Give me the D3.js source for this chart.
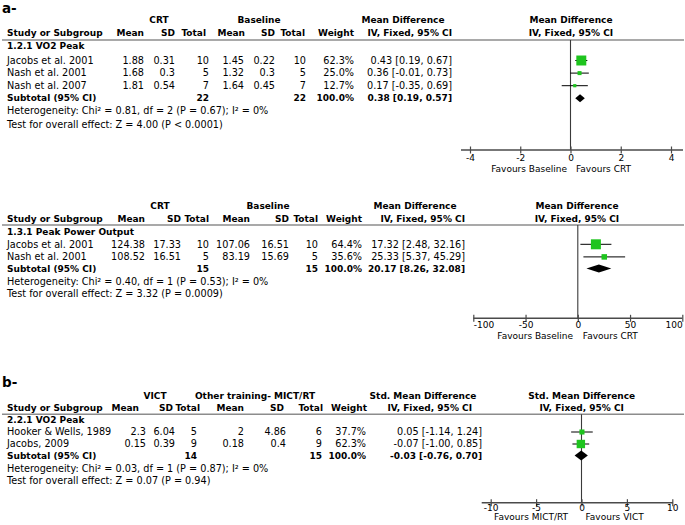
<!DOCTYPE html>
<html><head><meta charset="utf-8">
<script src="https://cdn.jsdelivr.net/npm/d3@7"></script>
<style>
body{margin:0;background:#fff}
text{font-family:"DejaVu Sans",Verdana,sans-serif;font-size:9.7px;fill:#000}
.b{font-weight:bold;font-size:9px}
</style>
</head><body>
<svg id="c" width="685" height="525"></svg>
<script>
// ---------- shared labels ----------
const colHeads = ["Mean","SD","Total","Mean","SD","Total","Weight","IV, Fixed, 95% CI"];
const studyHead = "Study or Subgroup";
const subtotalLabel = "Subtotal (95% CI)";

// ---------- panel a (1) ----------
const a1Group = "1.2.1 VO2 Peak";
const a1Studies = ["Jacobs et al. 2001","Nash et al. 2001","Nash et al. 2007"];
const a1ExpMean = [1.88,1.68,1.81];
const a1ExpSD = [0.31,0.3,0.54];
const a1ExpN = [10,5,7];
const a1CtlMean = [1.45,1.32,1.64];
const a1CtlSD = [0.22,0.3,0.45];
const a1CtlN = [10,5,7];
const a1Weight = [62.3,25.0,12.7];
const a1Est = [0.43,0.36,0.17];
const a1Lo = [0.19,-0.01,-0.35];
const a1Hi = [0.67,0.73,0.69];
const a1SubN = [22,22];
const a1SubEst = [0.38,0.19,0.57];
const a1Het = "Heterogeneity: Chi\u00B2 = 0.81, df = 2 (P = 0.67); I\u00B2 = 0%";
const a1Test = "Test for overall effect: Z = 4.00 (P < 0.0001)";
const a1Ticks = [-4,-2,0,2,4];
const a1Groups = ["CRT","Baseline","Mean Difference"];
const a1PlotHead = ["Mean Difference","IV, Fixed, 95% CI"];
const a1Favours = ["Favours Baseline","Favours CRT"];

// ---------- panel a (2) ----------
const a2Group = "1.3.1 Peak Power Output";
const a2Studies = ["Jacobs et al. 2001","Nash et al. 2001"];
const a2ExpMean = [124.38,108.52];
const a2ExpSD = [17.33,16.51];
const a2ExpN = [10,5];
const a2CtlMean = [107.06,83.19];
const a2CtlSD = [16.51,15.69];
const a2CtlN = [10,5];
const a2Weight = [64.4,35.6];
const a2Est = [17.32,25.33];
const a2Lo = [2.48,5.37];
const a2Hi = [32.16,45.29];
const a2SubN = [15,15];
const a2SubEst = [20.17,8.26,32.08];
const a2Het = "Heterogeneity: Chi\u00B2 = 0.40, df = 1 (P = 0.53); I\u00B2 = 0%";
const a2Test = "Test for overall effect: Z = 3.32 (P = 0.0009)";
const a2Ticks = [-100,-50,0,50,100];
const a2Groups = ["CRT","Baseline","Mean Difference"];
const a2PlotHead = ["Mean Difference","IV, Fixed, 95% CI"];
const a2Favours = ["Favours Baseline","Favours CRT"];

// ---------- panel b ----------
const bGroup = "2.2.1 VO2 Peak";
const bStudies = ["Hooker & Wells, 1989","Jacobs, 2009"];
const bExpMean = [2.3,0.15];
const bExpSD = [6.04,0.39];
const bExpN = [5,9];
const bCtlMean = [2,0.18];
const bCtlSD = [4.86,0.4];
const bCtlN = [6,9];
const bWeight = [37.7,62.3];
const bEst = [0.05,-0.07];
const bLo = [-1.14,-1.00];
const bHi = [1.24,0.85];
const bSubN = [14,15];
const bSubEst = [-0.03,-0.76,0.70];
const bHet = "Heterogeneity: Chi\u00B2 = 0.03, df = 1 (P = 0.87); I\u00B2 = 0%";
const bTest = "Test for overall effect: Z = 0.07 (P = 0.94)";
const bTicks = [-10,-5,0,5,10];
const bGroups = ["VICT","Other training- MICT/RT","Std. Mean Difference"];
const bPlotHead = ["Std. Mean Difference","IV, Fixed, 95% CI"];
const bFavours = ["Favours MICT/RT","Favours VICT"];

const GREEN = "#1ec41e";
const svg = d3.select("#c");
const f2 = v => v.toFixed(2);
const ciStr = (e,l,h) => `${f2(e)} [${f2(l)}, ${f2(h)}]`;

function txt(x,y,s,anchor,bold,size){
  const t = svg.append("text").attr("x",x).attr("y",y).attr("dy","0.35em")
    .attr("text-anchor",anchor||"start").attr("class",bold?"b":null).text(s);
  if(size) t.style("font-size",size+"px");
  return t;
}

function panel(d, L){
  // headers
  d.groups.forEach((g,i)=>txt(L.groupCx[i], L.yH1, g, "middle", true));
  txt(L.studyX, L.yH2, studyHead, "start", true);
  const hc = L.headCols || L.cols;
  colHeads.forEach((h,i)=>txt(hc[i], L.yH2, h, "end", true));
  txt(L.plotCx, L.yH1, d.plotHead[0], "middle", true);
  txt(L.plotCx, L.yH2, d.plotHead[1], "middle", true);
  svg.append("line").attr("x1",2).attr("x2",684).attr("y1",L.yLine).attr("y2",L.yLine)
    .attr("stroke","#8c8c8c").attr("stroke-width",1.6);
  txt(L.studyX, L.yGroup, d.group, "start", true);

  const y = d3.scaleLinear().domain([0,1]).range([L.yRow0, L.yRow0 + L.rowStep]);
  d.studies.forEach((s,i)=>{
    const yy = y(i);
    const vals = [String(d.em[i]),String(d.es[i]),String(d.en[i]),String(d.cm[i]),String(d.cs[i]),String(d.cn[i]),
                  d.w[i].toFixed(1)+"%", ciStr(d.est[i],d.lo[i],d.hi[i])];
    txt(L.studyX, yy, s);
    vals.forEach((v,j)=>txt(L.cols[j], yy, v, "end"));
  });
  const ys = L.ySub;
  txt(L.studyX, ys, subtotalLabel, "start", true);
  txt(L.cols[2], ys, String(d.subN[0]), "end", true);
  txt(L.cols[5], ys, String(d.subN[1]), "end", true);
  txt(L.cols[6], ys, "100.0%", "end", true);
  txt(L.cols[7], ys, ciStr(d.subEst[0],d.subEst[1],d.subEst[2]), "end", true);
  txt(L.studyX, L.yHet, d.het);
  txt(L.studyX, L.yTest, d.test);

  // forest plot
  const x = d3.scaleLinear().domain([d.ticks[0], d.ticks[d.ticks.length-1]]).range(L.tickRange);
  const g = svg.append("g");
  g.append("line").attr("x1",x(0)).attr("x2",x(0)).attr("y1",L.yLine).attr("y2",L.yAxis)
    .attr("stroke","#3a3a3a").attr("stroke-width",1.1);
  g.append("line").attr("x1",L.axisX[0]).attr("x2",L.axisX[1]).attr("y1",L.yAxis).attr("y2",L.yAxis)
    .attr("stroke","#4a4a4a").attr("stroke-width",1.4);
  const ax = g.append("g").attr("transform",`translate(0,${L.yAxis})`)
    .call(d3.axisBottom(x).tickValues(d.ticks).tickSize(3).tickSizeOuter(0).tickFormat(v=>String(v)));
  ax.select(".domain").remove();
  ax.selectAll(".tick line").attr("y1",-3.5).attr("y2",3.5).attr("stroke","#4a4a4a").attr("stroke-width",1.2);
  const last = d.ticks.length-1;
  ax.selectAll(".tick text").attr("y",L.tickLblOff).attr("dy","0.35em")
    .attr("text-anchor",(v,i)=> L.clampEnds ? (i===0?"start":(i===last?"end":"middle")) : "middle")
    .style("font-family",'"DejaVu Sans",Verdana,sans-serif').style("font-size","9px").attr("fill","#000");
  txt(x(0)-L.favOff[0], L.yFav, d.favours[0], "end", false, 9);
  txt(x(0)+L.favOff[1], L.yFav, d.favours[1], "start", false, 9);

  d.studies.forEach((s,i)=>{
    const yy = y(i);
    g.append("line").attr("x1",x(d.lo[i])).attr("x2",x(d.hi[i])).attr("y1",yy).attr("y2",yy)
      .attr("stroke","#000").attr("stroke-width",1);
    const side = Math.max(3.2, d.w[i]*L.sqK);
    g.append("rect").attr("x",x(d.est[i])-side/2).attr("y",yy-side/2).attr("width",side).attr("height",side)
      .attr("fill",GREEN);
  });
  const h = L.diaH;
  g.append("path").attr("d",`M${x(d.subEst[1])},${ys}L${x(d.subEst[0])},${ys-h}L${x(d.subEst[2])},${ys}L${x(d.subEst[0])},${ys+h}Z`)
    .attr("fill","#000");
}

// titles
svg.append("text").attr("x",2).attr("y",13).attr("class","b").style("font-size","13.5px").text("a-");
svg.append("text").attr("x",2).attr("y",387).attr("class","b").style("font-size","13.5px").text("b-");

panel({group:a1Group, studies:a1Studies, em:a1ExpMean, es:a1ExpSD, en:a1ExpN, cm:a1CtlMean, cs:a1CtlSD, cn:a1CtlN,
  w:a1Weight, est:a1Est, lo:a1Lo, hi:a1Hi, subN:a1SubN, subEst:a1SubEst, het:a1Het, test:a1Test, ticks:a1Ticks,
  groups:a1Groups, plotHead:a1PlotHead, favours:a1Favours},
  {studyX:7, cols:[144,175,209,244,275,306,354,452], headCols:[144,175,206,245,275,305,354,452],
   groupCx:[159,259,403], plotCx:571,
   yH1:20, yH2:33, yLine:40, yGroup:46, yRow0:60.5, rowStep:12.6, ySub:98.3, yHet:111, yTest:124.5,
   yAxis:150, tickLblOff:7.5, yFav:169, tickRange:[470,671], axisX:[461,683],
   favOff:[3.5,5.5], sqK:0.16, diaH:4});

panel({group:a2Group, studies:a2Studies, em:a2ExpMean, es:a2ExpSD, en:a2ExpN, cm:a2CtlMean, cs:a2CtlSD, cn:a2CtlN,
  w:a2Weight, est:a2Est, lo:a2Lo, hi:a2Hi, subN:a2SubN, subEst:a2SubEst, het:a2Het, test:a2Test, ticks:a2Ticks,
  groups:a2Groups, plotHead:a2PlotHead, favours:a2Favours},
  {studyX:7, cols:[145,181,209,250,289,318,362,465], groupCx:[160,268,415], plotCx:577,
   yH1:206, yH2:219, yLine:225, yGroup:231.5, yRow0:244.3, rowStep:12.6, ySub:268.5, yHet:281.7, yTest:293.8,
   yAxis:318.3, tickLblOff:7, yFav:336, tickRange:[473.3,682.3], axisX:[473.3,682.3], clampEnds:true,
   favOff:[4.7,5], sqK:0.155, diaH:4});

panel({group:bGroup, studies:bStudies, em:bExpMean, es:bExpSD, en:bExpN, cm:bCtlMean, cs:bCtlSD, cn:bCtlN,
  w:bWeight, est:bEst, lo:bLo, hi:bHi, subN:bSubN, subEst:bSubEst, het:bHet, test:bTest, ticks:bTicks,
  groups:bGroups, plotHead:bPlotHead, favours:bFavours},
  {studyX:7, cols:[146,175,197,244,286,322,366,482], headCols:[139,173,200,244,284,323,367,472],
   groupCx:[155,255,423], plotCx:581.7,
   yH1:395.5, yH2:407.7, yLine:414.3, yGroup:420, yRow0:432, rowStep:12, ySub:455.5, yHet:468.8, yTest:481,
   yAxis:502.7, tickLblOff:5.5, yFav:517, tickRange:[490.7,672.3], axisX:[481.7,673],
   favOff:[13.4,4], sqK:0.135, diaH:5});
</script>
</body></html>
